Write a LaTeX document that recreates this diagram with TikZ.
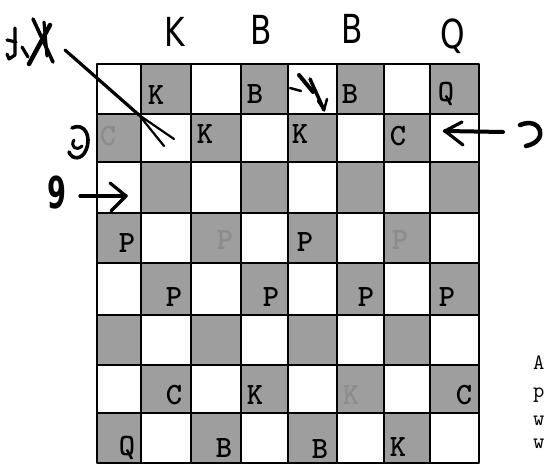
\documentclass[tikz,border=0pt]{standalone}
\usepackage{fontspec}
\newfontfamily\hand{DejaVu Sans}
\begin{document}
\begin{tikzpicture}[x=1pt,y=-1pt,
  grid/.style={line width=1.8pt, line cap=round},
  border/.style={line width=2.4pt, line join=round},
  shadecell/.style={fill=black!38},
  piece/.style={font=\ttfamily\bfseries\fontsize{31}{31}\selectfont, inner sep=0pt},
  faint/.style={piece, text=black!45},
  label/.style={font=\hand\fontsize{40}{40}\selectfont, inner sep=0pt, xscale=0.78},
  sidetext/.style={font=\ttfamily\fontsize{22}{22}\selectfont, inner sep=0pt, anchor=base west},
  hw/.style={line width=3.2pt, line cap=round, line join=round}]
\useasboundingbox (0,0) rectangle (547,473);
\fill[white] (0,0) rectangle (547,473);
\def\XL{{97,141,191,241,288,337,384,430,479}}
\def\YL{{64,114,162,213,263,315,365,413,463}}
% shaded squares
\foreach \r in {0,...,7}{
  \foreach \c in {0,...,7}{
    \pgfmathtruncatemacro{\odd}{mod(\r+\c,2)}
    \ifnum\odd=1
      \pgfmathsetmacro{\xa}{\XL[\c]}
      \pgfmathsetmacro{\xb}{\XL[\c+1]}
      \pgfmathsetmacro{\ya}{\YL[\r]}
      \pgfmathsetmacro{\yb}{\YL[\r+1]}
      \fill[shadecell] (\xa,\ya) rectangle (\xb,\yb);
    \fi
  }
}
% grid
\foreach \x in {141,191,241,288,337,384,430}{ \draw[grid] (\x,64) -- (\x,463); }
\foreach \y in {114,162,213,263,315,365,413}{ \draw[grid] (97,\y) -- (479,\y); }
\draw[border] (97,64) rectangle (479,463);
% column labels
\node[label] (lk) at (175,32) {K};
\node[label] (lb1) at (261,30) {B};
\node[label] (lb2) at (352,29) {B};
\node[label] (lq) at (453,36) {Q};
% pieces row 1
\node[piece] (r1k) at (156,95) {K};
\node[piece] (r1b1) at (255,94) {B};
\node[piece] (r1b2) at (350,94) {B};
\node[piece] (r1q) at (446,94) {Q};
% row 2
\node[faint] (r2c1) at (108,136) {C};
\node[piece] (r2k1) at (205,134) {K};
\node[piece] (r2k2) at (300,134) {K};
\node[piece] (r2c2) at (398,136) {C};
% row 4
\node[piece] (r4p1) at (127,243) {P};
\node[faint] (r4p2) at (225,240) {P};
\node[piece] (r4p3) at (305,242) {P};
\node[faint] (r4p4) at (400,240) {P};
% row 5
\node[piece] (r5p1) at (174,297) {P};
\node[piece] (r5p2) at (271,297) {P};
\node[piece] (r5p3) at (366,297) {P};
\node[piece] (r5p4) at (447,297) {P};
% row 7
\node[piece] (r7c1) at (174,395) {C};
\node[piece] (r7k1) at (255,395) {K};
\node[faint] (r7k2) at (351,395) {K};
\node[piece] (r7c2) at (464,395) {C};
% row 8
\node[piece] (r8q) at (127,448) {Q};
\node[piece] (r8b1) at (224,448) {B};
\node[piece] (r8b2) at (320,449) {B};
\node[piece] (r8k) at (398,447) {K};
% right text
\node[sidetext] (ta) at (533,370) {A};
\node[sidetext] (tp) at (533,398) {p};
\node[sidetext] (tw1) at (533,426) {w};
\node[sidetext] (tw2) at (533,449) {w};
% handwritten marks: top left
\draw[hw] (15,28) -- (15,55) -- (9,59) -- (7,54);
\draw[hw] (7,40) -- (16,42);
\draw[hw] (22,47) -- (28,57);
\draw[hw, line width=3.6pt] (33,19) -- (53,62);
\draw[hw, line width=4.5pt] (50,25) -- (29,64);
\draw[hw] (44,22) -- (47,56);
% diagonal stroke
\coordinate (d0) at (65,50);
\coordinate (d1) at (139,115);
\coordinate (d2) at (174,139);
\coordinate (d3) at (164,146);
\draw[line width=3.2pt, line cap=round] (d0) -- (d1);
\draw[line width=2.2pt, line cap=round] (d1) -- (d2);
\draw[line width=2.2pt, line cap=round] (d1) -- (d3);
% mark left of row 2
\draw[hw, line width=3.6pt] (72,128) .. controls (84,122) and (92,136) .. (86,150) .. controls (82,160) and (72,160) .. (69,152);
\draw[hw, line width=3pt] (74,140) .. controls (70,146) and (76,152) .. (82,146);
% 9 and arrow
\node[font=\hand\bfseries\fontsize{44}{44}\selectfont, inner sep=0pt, xscale=0.62] (nine) at (57,193) {9};
\coordinate (la0) at (80,196);
\coordinate (la1) at (126,196);
\draw[hw] (la0) -- (la1);
\draw[hw] (110,183) -- (la1) -- (111,211);
% right arrow
\coordinate (ra0) at (503,132);
\coordinate (ra1) at (445,131);
\draw[hw, line width=4pt] (ra0) -- (ra1);
\draw[hw] (462,122) -- (ra1) -- (463,145);
\draw[hw, line width=4.5pt] (520,125) .. controls (541,116) and (550,141) .. (526,146);
% marks in row 1 column 5
\draw[hw, line width=4pt] (299,75) -- (313,92);
\coordinate (ca0) at (310,79);
\coordinate (ca1) at (324,110);
\draw[hw, line width=3.5pt] (ca0) -- (ca1);
\draw[hw, line width=2.5pt] (318,101) -- (ca1) -- (327,99);
\draw[hw, line width=2.5pt] (290,88) -- (301,91);
\end{tikzpicture}
\end{document}
